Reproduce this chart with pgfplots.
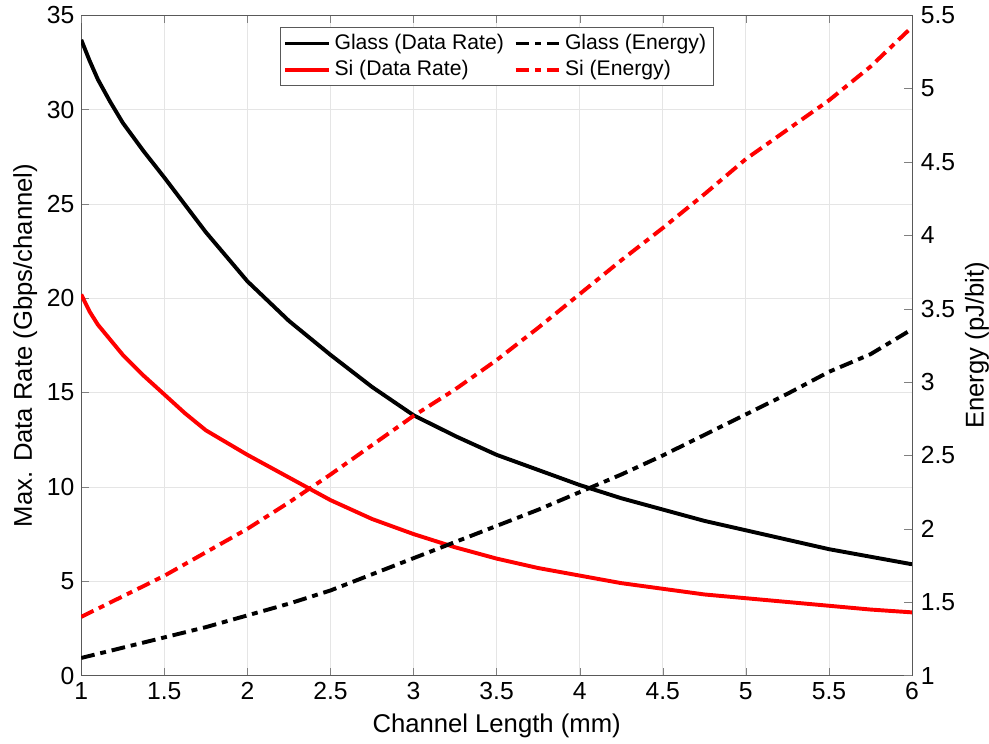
\documentclass[border=0pt]{standalone}
\usepackage{pgfplots}
\pgfplotsset{compat=1.18}
\usepackage{fontspec}
\setmainfont{Liberation Sans}

\pgfplotsset{
  every axis/.append style={
    scale only axis, width=424pt, height=337pt,
    xmin=1, xmax=6,
    tick label style={font=\fontsize{12.6}{14}\selectfont},
    label style={font=\fontsize{13.1}{15}\selectfont},
    /pgf/number format/assume math mode=true,
    tick align=inside, axis line style={gray!70!black},
    major tick length=4pt,
  },
}
\tikzset{dd/.style={line width=2pt, dash pattern=on 7pt off 3pt on 3pt off 3pt}}

\begin{document}
\begin{tikzpicture}
\begin{axis}[
  ymin=0, ymax=35,
  axis y line*=left,
  xtick={1,1.5,...,6}, ytick={0,5,...,35},
  grid=major, grid style={gray!20},
  xlabel={Channel Length (mm)},
  ylabel={Max. Data Rate (Gbps/channel)},
  xticklabel style={/pgf/number format/fixed},
  ylabel style={yshift=-2pt},
]
\addplot[black, line width=2pt] coordinates {
(1,33.7) (1.05,32.6) (1.1,31.6) (1.175,30.4) (1.25,29.3) (1.375,27.8) (1.5,26.4) (1.75,23.5) (2,20.9) (2.25,18.8) (2.5,17.0) (2.75,15.3)
(3,13.8) (3.25,12.7) (3.5,11.7) (3.75,10.9) (4,10.1) (4.25,9.4) (4.5,8.8) (4.75,8.2)
(5,7.7) (5.25,7.2) (5.5,6.7) (5.75,6.3) (6,5.9)};
\addplot[red, line width=2pt] coordinates {
(1,20.2) (1.05,19.3) (1.1,18.6) (1.175,17.8) (1.25,17.0) (1.375,15.9) (1.5,14.9) (1.625,13.9) (1.75,13.0) (2,11.7) (2.25,10.5) (2.5,9.3) (2.75,8.3)
(3,7.5) (3.25,6.8) (3.5,6.2) (3.75,5.7) (4,5.3) (4.25,4.9) (4.5,4.6) (4.75,4.3)
(5,4.1) (5.25,3.9) (5.5,3.7) (5.75,3.5) (6,3.35)};
\end{axis}
\begin{axis}[
  ymin=1, ymax=5.5,
  axis y line*=right, axis x line*=top,
  xtick={1,1.5,...,6}, xticklabels={},
  ytick={1,1.5,...,5.5},
  yticklabel style={/pgf/number format/fixed, xshift=1pt},
  ylabel={Energy (pJ/bit)},
  ylabel style={inner sep=0pt, yshift=-1.5pt},
  legend columns=2,
  legend style={at={(0.5,0.982)}, anchor=north, draw=gray!70!black, inner sep=1.5pt,
    font=\fontsize{10.8}{12.5}\selectfont, /tikz/every even column/.append style={column sep=3pt}},
  legend cell align=left,
  legend image code/.code={\draw[#1] (0cm,0cm) -- (0.78cm,0cm);},
]
\addlegendimage{black, line width=2pt}
\addlegendentry{Glass (Data Rate)}
\addplot[black, dd] coordinates {
(1,1.12) (1.25,1.19) (1.5,1.26) (1.75,1.33) (2,1.41) (2.25,1.49) (2.5,1.58) (2.75,1.69)
(3,1.80) (3.25,1.91) (3.5,2.02) (3.75,2.13) (4,2.25) (4.25,2.37) (4.5,2.50) (4.75,2.64)
(5,2.78) (5.25,2.92) (5.5,3.07) (5.75,3.19) (6,3.36)};
\addlegendentry{Glass (Energy)}
\addlegendimage{red, line width=2pt}
\addlegendentry{Si (Data Rate)}
\addplot[red, dd] coordinates {
(1,1.40) (1.25,1.54) (1.5,1.68) (1.75,1.84) (2,2.00) (2.25,2.18) (2.5,2.37) (2.75,2.57)
(3,2.77) (3.25,2.95) (3.5,3.15) (3.75,3.37) (4,3.60) (4.25,3.83) (4.5,4.05) (4.75,4.28)
(5,4.52) (5.25,4.72) (5.5,4.92) (5.75,5.15) (6,5.42)};
\addlegendentry{Si (Energy)}
\end{axis}
\path (current bounding box.west) ++(-3.5pt,0);
\end{tikzpicture}
\end{document}
